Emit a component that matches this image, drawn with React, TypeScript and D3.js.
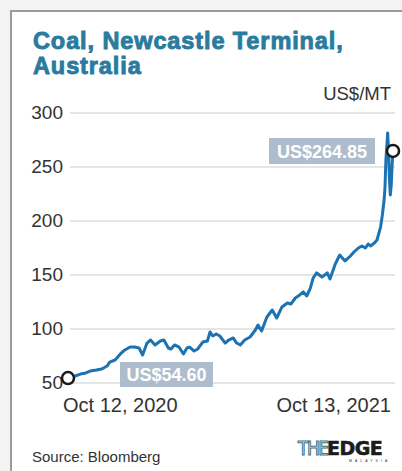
import React from "react";
import * as d3 from "d3";

// Days after Oct 12, 2020
const dayOffsets = [0, 8, 14, 20, 25, 32, 38, 44, 47, 53, 59, 64, 70, 75, 80, 84, 89, 93, 98, 104, 108, 113, 116, 120, 125, 130, 134, 137, 142, 146, 152, 157, 160, 163, 167, 171, 177, 181, 186, 190, 194, 199, 205, 211, 214, 218, 224, 230, 235, 241, 247, 251, 256, 261, 265, 269, 273, 276, 280, 286, 292, 295, 301, 306, 312, 318, 322, 327, 331, 335, 338, 341, 345, 348, 352, 354, 356, 357, 358, 360, 361, 362, 363, 364, 365, 366];
const prices = [54.6, 56.5, 58.3, 59.3, 61.1, 62.0, 63.0, 65.7, 69.4, 71.3, 76.9, 80.6, 83.3, 83.3, 82.4, 75.9, 87.0, 89.8, 85.2, 88.9, 89.8, 82.4, 81.5, 85.2, 83.3, 76.9, 82.4, 83.3, 79.6, 81.5, 88.0, 88.9, 97.2, 93.5, 95.4, 93.5, 87.0, 89.8, 91.7, 87.0, 85.2, 89.8, 92.6, 99.1, 103.7, 98.1, 111.1, 117.6, 110.2, 120.4, 124.1, 123.1, 128.7, 131.5, 134.3, 130.6, 138.0, 147.2, 151.9, 148.1, 151.9, 146.3, 160.2, 168.5, 163.0, 167.6, 171.3, 175.0, 176.9, 175.0, 178.7, 176.9, 179.6, 182.4, 194.4, 205.6, 219.4, 231.5, 256.5, 281.5, 265.7, 238.0, 224.1, 233.3, 251.9, 264.85];
const yTicks = [50, 100, 150, 200, 250, 300];
const xLabels = ["Oct 12, 2020", "Oct 13, 2021"];
const titleLines = ["Coal, Newcastle Terminal,", "Australia"];
const unitLabel = "US$/MT";
const startLabel = "US$54.60";
const endLabel = "US$264.85";
const sourceText = "Source: Bloomberg";

const FONT = "'Liberation Sans', Arial, Helvetica, sans-serif";

export default function App() {
  const W = 402, H = 471;
  const x = d3.scaleLinear().domain([0, 366]).range([68, 393]);
  const y = d3.scaleLinear().domain([50, 300]).range([383, 113]);
  const data = dayOffsets.map((d, i) => [d, prices[i]] as [number, number]);
  const line = d3.line<[number, number]>().x(d => x(d[0])).y(d => y(d[1]));
  const first = data[0];
  const last = data[data.length - 1];

  return (
    <svg width={W} height={H} style={{ position: "absolute", left: 0, top: 0 }} fontFamily={FONT}>
      <rect x={0} y={0} width={W} height={H} fill="#f3f3f3" />
      <rect x={11} y={11} width={W + 20} height={H + 20} fill="#ffffff" stroke="#9c9c9c" strokeWidth={2} />

      {titleLines.map((t, i) => (
        <text key={t} x={33} y={49 + i * 25} fontSize={23.5} fontWeight={700} fill="#2a7b9e" stroke="#2a7b9e" strokeWidth={0.9} letterSpacing={0.9}>{t}</text>
      ))}
      <text x={391} y={100} fontSize={18.5} textAnchor="end" fill="#333">{unitLabel}</text>

      {yTicks.map(t => (
        <g key={t}>
          <line x1={70} x2={395} y1={y(t)} y2={y(t)} stroke="#dcdcdc" strokeWidth={1.5} />
          <text x={63} y={y(t) + 6} fontSize={19} textAnchor="end" fill="#333">{t}</text>
        </g>
      ))}

      <rect x={120} y={362} width={93} height={25} fill="#aebdcd" />
      <text x={166.5} y={381} fontSize={18} fontWeight={700} fill="#ffffff" textAnchor="middle">{startLabel}</text>
      <rect x={269} y={138} width={106} height={26} fill="#aebdcd" />
      <text x={322} y={158} fontSize={18} fontWeight={700} fill="#ffffff" textAnchor="middle">{endLabel}</text>

      <path d={line(data) || ""} fill="none" stroke="#1d72b2" strokeWidth={3} strokeLinejoin="round" strokeLinecap="round" />
      <circle cx={x(first[0])} cy={y(first[1])} r={6} fill="#fff" stroke="#1a1a1a" strokeWidth={2.5} />
      <circle cx={x(last[0])} cy={y(last[1])} r={6} fill="#fff" stroke="#1a1a1a" strokeWidth={2.5} />

      <text x={63} y={412} fontSize={20} fill="#333">{xLabels[0]}</text>
      <text x={391} y={412} fontSize={20} textAnchor="end" fill="#333">{xLabels[1]}</text>

      <text x={32} y={462} fontSize={15} fill="#333">{sourceText}</text>
      <g>
        <text x={298} y={455} fontSize={19} fill="#ffffff" stroke="#3d6f78" strokeWidth={1} fontFamily="'DejaVu Sans Condensed', 'DejaVu Sans', sans-serif" letterSpacing={-1.5}>THE</text>
        <text x={327} y={455} fontSize={19} fontWeight={900} fill="#1c1c1c" stroke="#1c1c1c" strokeWidth={0.6} fontFamily="'DejaVu Sans', sans-serif" letterSpacing={-0.5}>EDGE</text>
        <text x={349} y={462} fontSize={3.5} fill="#333" letterSpacing={3}>MALAYSIA</text>
      </g>
    </svg>
  );
}
